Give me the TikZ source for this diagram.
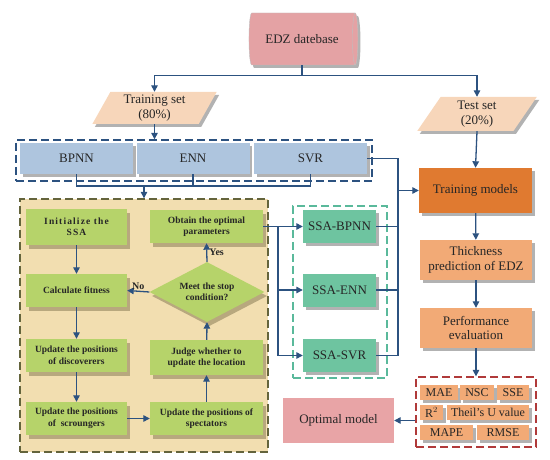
\documentclass[tikz,border=0pt]{standalone}
\usepackage{fontspec}
\setmainfont{Liberation Serif}
\usepackage{tikz}
\usetikzlibrary{shapes.geometric, arrows.meta, positioning, calc}
\definecolor{linkblue}{RGB}{44, 82, 128}
\definecolor{dbpink}{RGB}{228, 162, 164}
\definecolor{setpeach}{RGB}{247, 214, 186}
\definecolor{nnblue}{RGB}{174, 197, 222}
\definecolor{flowgreen}{RGB}{182, 211, 106}
\definecolor{flowtan}{RGB}{242, 222, 176}
\definecolor{shadetan}{RGB}{184, 168, 126}
\definecolor{frameolive}{RGB}{100, 100, 60}
\definecolor{ssateal}{RGB}{110, 196, 160}
\definecolor{frameteal}{RGB}{90, 185, 155}
\definecolor{trainorange}{RGB}{224, 122, 48}
\definecolor{lightorange}{RGB}{242, 170, 118}
\definecolor{framered}{RGB}{176, 58, 58}
\definecolor{optpink}{RGB}{232, 164, 166}

\begin{document}
\begin{tikzpicture}[x=1pt, y=-1pt,
    every node/.style={font=\rmfamily\fontsize{13}{14.5}\selectfont, text=black!85, inner sep=0pt, align=center},
    link/.style={draw=linkblue, line width=1.3pt},
    arr/.style={link, -{Triangle[length=6.5pt, width=6.5pt]}},
    grayshade/.style={preaction={fill=black!30, transform canvas={xshift=2.5pt, yshift=-3pt}}},
    tanshade/.style={preaction={fill=shadetan, transform canvas={xshift=2.5pt, yshift=-4pt}}},
    dataset/.style={trapezium, trapezium left angle=64, trapezium right angle=116, trapezium stretches=true,
                    fill=setpeach, grayshade, minimum width=125pt, minimum height=32pt},
    nnmodel/.style={rectangle, fill=nnblue, grayshade, minimum width=113pt, minimum height=31pt},
    flowstep/.style={rectangle, fill=flowgreen, tanshade, minimum height=33pt,
                     font=\rmfamily\fontsize{9.5}{11.5}\selectfont\bfseries},
    ssamodel/.style={rectangle, fill=ssateal, grayshade, minimum width=73pt, minimum height=33pt},
    stage/.style={rectangle, grayshade, minimum width=112pt, minimum height=40pt},
    metric/.style={rectangle, fill=lightorange, grayshade, minimum height=15pt, font=\rmfamily\fontsize{12}{13}\selectfont},
    dashframe/.style={rectangle, dash pattern=on 8pt off 4pt, line width=1.4pt}
]
    % frames
    \node[dashframe, draw=linkblue, minimum width=356pt, minimum height=41pt] (nnframe) at (194,160.5) {};
    \node[dashframe, draw=frameolive, fill=flowtan, minimum width=248pt, minimum height=253pt] (ssaframe) at (144,325.5) {};
    \node[dashframe, draw=frameteal, line width=1.2pt, minimum width=94pt, minimum height=172pt] (tealframe) at (340,292) {};
    \node[dashframe, draw=framered, line width=1.3pt, minimum width=120pt, minimum height=70pt] (metframe) at (476,412) {};

    % data
    \node[cylinder, shape border rotate=0, shape aspect=0.6, draw=black!25, fill=dbpink, grayshade,
          minimum width=52pt, minimum height=109pt] (db) at (302,39) {EDZ datebase};
    \node[dataset] (trainset) at (154.5,108) {Training set\\(80\%)};
    \node[dataset, minimum width=120pt, minimum height=34pt] (testset) at (477,114) {Test set\\(20\%)};

    % models
    \node[nnmodel] (bpnn) at (76.5,158.5) {BPNN};
    \node[nnmodel] (enn) at (193,158.5) {ENN};
    \node[nnmodel] (svr) at (310.5,158.5) {SVR};

    % SSA flow
    \node[flowstep, minimum width=101pt, minimum height=36pt] (init) at (76.5,227)
        {\addfontfeature{LetterSpace=12}Initialize the\\\addfontfeature{LetterSpace=12}SSA};
    \node[flowstep, minimum width=101pt] (calc) at (76.5,290.5) {Calculate fitness};
    \node[flowstep, minimum width=101pt] (disc) at (76.5,355.5) {Update the positions\\of discoverers};
    \node[flowstep, minimum width=101pt] (scro) at (76.5,418.5) {Update the positions\\of\ \ scroungers};
    \node[flowstep, minimum width=113pt] (obtain) at (206.5,226.5) {Obtain the optimal\\parameters};
    \node[flowstep, diamond, shape aspect=1.9, minimum width=115pt, minimum height=60pt] (stop) at (207,292) {Meet the stop\\condition?};
    \node[flowstep, minimum width=113pt, minimum height=35pt] (judge) at (206.5,357.5) {Judge whether to\\update the location};
    \node[flowstep, minimum width=113pt] (spec) at (206.5,418.5) {Update the positions of\\spectators};

    \node[ssamodel] (ssabpnn) at (339.5,226.5) {SSA-BPNN};
    \node[ssamodel] (ssaenn) at (339.5,290) {SSA-ENN};
    \node[ssamodel] (ssasvr) at (339.5,355.5) {SSA-SVR};

    % evaluation
    \node[stage, fill=trainorange, minimum width=113pt, minimum height=45pt] (trainm) at (475.5,190.5) {Training models};
    \node[stage, fill=lightorange] (thick) at (476,260) {Thickness\\prediction of EDZ};
    \node[stage, fill=lightorange] (perf) at (476,328) {Performance\\evaluation};

    \node[metric, minimum width=38pt] (mae) at (439,392.5) {MAE};
    \node[metric, minimum width=34pt] (nsc) at (477,392.5) {NSC};
    \node[metric, minimum width=32pt] (sse) at (513,392.5) {SSE};
    \node[metric, minimum width=23pt] (rsq) at (431.5,412.5) {R$^{2}$};
    \node[metric, minimum width=82pt] (theil) at (488,412.5) {Theil's U value};
    \node[metric, minimum width=53pt] (mape) at (446.5,432.5) {MAPE};
    \node[metric, minimum width=52pt] (rmse) at (503,432.5) {RMSE};

    \node[rectangle, fill=optpink, minimum width=111pt, minimum height=45pt] (optimal) at (338.5,420.5) {Optimal model};

    % connectors
    \draw[link] (db.south) -- ++(0,10) coordinate (dbsplit);
    \draw[arr] (dbsplit) -| (trainset.north);
    \draw[arr] (dbsplit) -| (testset.north);
    \draw[arr] (trainset.south) -- (trainset.south |- nnframe.north);

    \coordinate (nnbus) at (ssaframe.north |- 0,186);
    \draw[link] (bpnn.south) -- (bpnn.south |- nnbus) -- (svr.south |- nnbus) -- (svr.south);
    \draw[link] (enn.south) -- (enn.south |- nnbus);
    \draw[arr] (nnbus) -- (ssaframe.north);

    \coordinate (bus) at (398,0);
    \draw[link] (svr.east) -| (bus |- ssasvr.east) -- (ssasvr.east);
    \draw[link] (ssabpnn.east) -- (bus |- ssabpnn.east);
    \draw[link] (ssaenn.east) -- (bus |- ssaenn.east);
    \draw[arr] (bus |- trainm.west) -- (trainm.west);

    \coordinate (obus) at (278,0);
    \draw[arr] (obtain.east) -- (ssabpnn.west);
    \draw[arr] (obus |- obtain.east) |- (ssaenn.west);
    \draw[arr] (obus |- obtain.east) |- (ssasvr.west);

    \draw[arr] (init) -- (calc);
    \draw[arr] (stop.west) -- node[above=1pt, font=\rmfamily\fontsize{10}{11}\selectfont\bfseries] {No} (calc.east);
    \draw[arr] (calc) -- (disc);
    \draw[arr] (disc) -- (scro);
    \draw[arr] (scro) -- (spec);
    \draw[arr] (spec) -- (judge);
    \draw[arr] (judge) -- (stop.south);
    \draw[arr] (stop.north) -- node[right=2pt, font=\rmfamily\fontsize{10}{11}\selectfont\bfseries] {Yes} (obtain.south);

    \draw[arr] (testset.south) -- (trainm.north);
    \draw[arr] (trainm) -- (thick);
    \draw[arr] (thick) -- (perf);
    \draw[arr] (perf) -- (metframe.north);
    \draw[arr] (metframe.west |- optimal.east) -- (optimal.east);

    \useasboundingbox (0,0) rectangle (550,460);
\end{tikzpicture}
\end{document}
